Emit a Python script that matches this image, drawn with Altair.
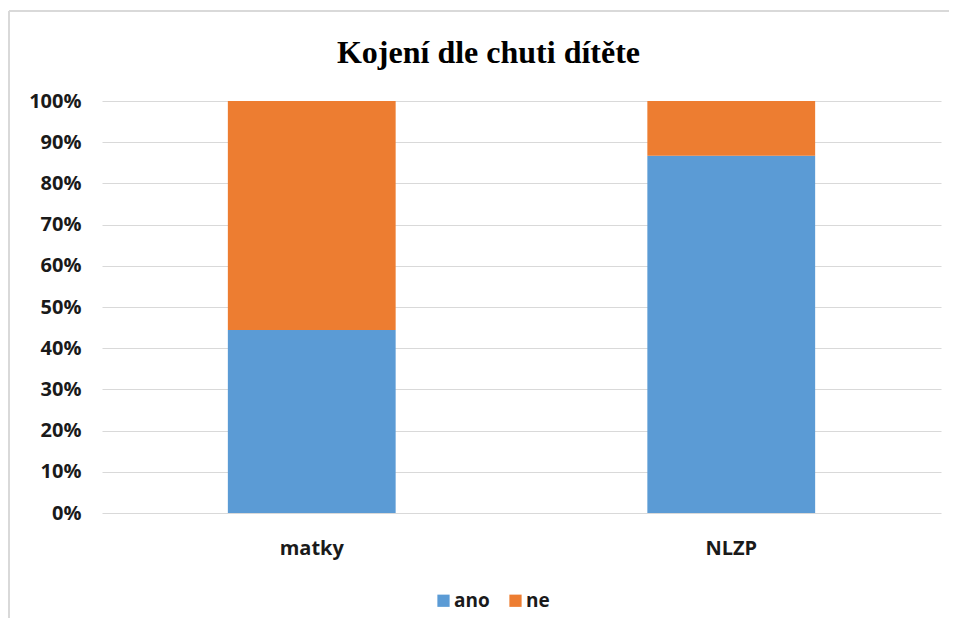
import altair as alt
import pandas as pd

categories = ["matky", "NLZP"]
series = ["ano", "ne"]
ano_values = [44.4, 86.7]
ne_values = [55.6, 13.3]
y_ticks = [0, 10, 20, 30, 40, 50, 60, 70, 80, 90, 100]
colors = ["#5b9bd5", "#ed7d31"]

rows = []
for i, c in enumerate(categories):
    rows.append({"cat": c, "serie": "ano", "value": ano_values[i], "order": 0})
    rows.append({"cat": c, "serie": "ne", "value": ne_values[i], "order": 1})
df = pd.DataFrame(rows)

label_font = "Open Sans"

bars = alt.Chart(df).mark_bar().encode(
    x=alt.X("cat:N", sort=categories, title=None,
            scale=alt.Scale(paddingInner=0.6, paddingOuter=0.3),
            axis=alt.Axis(labelAngle=0, labelFont=label_font, labelFontSize=20,
                          labelFontWeight="bold", labelColor="#1a1a1a",
                          labelPadding=25, domain=False, ticks=False, grid=False)),
    y=alt.Y("value:Q", stack="normalize", title=None,
            scale=alt.Scale(domain=[0, 1]),
            axis=alt.Axis(values=[v / 100 for v in y_ticks], format=".0%",
                          labelFont=label_font, labelFontSize=20,
                          labelFontWeight="bold", labelColor="#1a1a1a",
                          labelPadding=21, domain=False, ticks=False,
                          grid=True, gridColor="#d9d9d9", gridWidth=1)),
    color=alt.Color("serie:N", sort=series, title=None,
                    scale=alt.Scale(domain=series, range=colors),
                    legend=alt.Legend(orient="none", legendX=332, legendY=490,
                                      direction="horizontal", symbolType="square",
                                      symbolSize=150, symbolStrokeWidth=0,
                                      labelFont=label_font, labelFontSize=19,
                                      labelFontWeight="bold", labelColor="#1a1a1a",
                                      columnPadding=16, labelOffset=1)),
    order=alt.Order("order:Q", sort="ascending"),
)

border_top = alt.Chart(pd.DataFrame({"a": [0]})).mark_rule(color="#d9d9d9", strokeWidth=2).encode(
    x=alt.value(-93), x2=alt.value(850), y=alt.value(-90)
)
border_left = alt.Chart(pd.DataFrame({"a": [0]})).mark_rule(color="#d9d9d9", strokeWidth=2).encode(
    x=alt.value(-93), y=alt.value(-90), y2=alt.value(540)
)

chart = alt.layer(bars, border_top, border_left).properties(
    width=839, height=412,
    background="white",
    title=alt.TitleParams("Kojení dle chuti dítěte", font="Liberation Serif",
                          fontSize=32, fontWeight="bold", color="#000000",
                          anchor="middle", dx=-33, offset=-60),
    autosize=alt.AutoSizeParams(type="none"),
    padding={"left": 94, "top": 93, "right": 8, "bottom": 105},
).configure_view(stroke=None, strokeWidth=0)

chart.save("out.html", embed_options={"renderer": "svg", "actions": False})
